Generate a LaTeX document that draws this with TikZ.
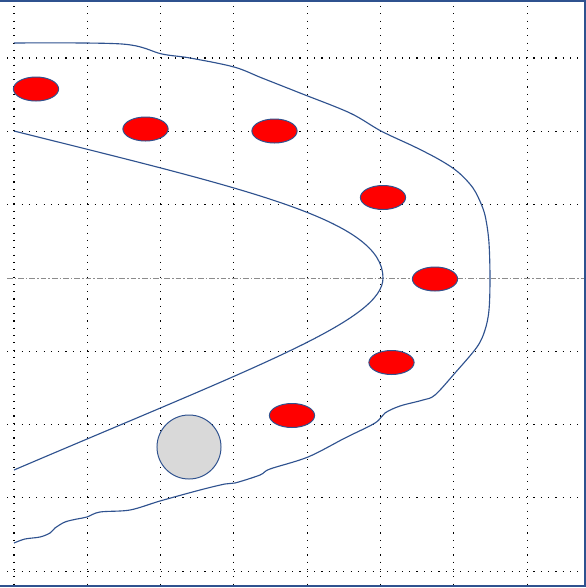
\documentclass[tikz,border=0pt]{standalone}
\usepackage{tikz}
\usetikzlibrary{shapes.geometric}
\definecolor{inkblue}{HTML}{2F528F}
\definecolor{spotred}{HTML}{FF0000}
\definecolor{discgrey}{HTML}{D9D9D9}
\definecolor{axisgrey}{HTML}{8C8C8C}

\begin{document}
\begin{tikzpicture}[x=0.025cm, y=-0.025cm,
  gridline/.style={black, line width=0.8pt, dash pattern=on 0.8pt off 4.4pt},
  axisline/.style={axisgrey, line width=0.7pt, dash pattern=on 4pt off 1.5pt on 1pt off 1.5pt},
  rimline/.style={inkblue, line width=0.8pt},
  spot/.style={ellipse, draw=inkblue, line width=0.7pt, fill=spotred,
               minimum width=1.13cm, minimum height=0.6cm, inner sep=0pt},
  disc/.style={circle, draw=inkblue, line width=0.7pt, fill=discgrey,
               minimum size=1.6cm, inner sep=0pt}]
  \useasboundingbox (0,0) rectangle (586,588);
  \fill[white] (0,0) rectangle (586,588);
  \foreach \i in {0,...,7}{%
    \draw[gridline] (14+73.3*\i,6) -- (14+73.3*\i,586);}
  \foreach \i in {0,1,2,4,5,6,7}{%
    \draw[gridline] (7,58+73.3*\i) -- (585,58+73.3*\i);}
  \draw[axisline] (7,278) -- (585,278);
  \draw[inkblue, line width=0.9pt] (0,1) -- (585,1) -- (585,586) -- (0,586);
  \draw[rimline] (14,131) .. controls (250,190) and (383,220) .. (383,278)
    .. controls (383,320) and (260,365) .. (14,470);
  \draw[rimline] plot[smooth, tension=0.55] coordinates {(14,43) (122,44)
    (162,54) (190,58) (234,67) (262,78) (300,93) (350,113) (381,131)
    (415,147) (440,160) (458,172) (473,188) (482,206) (486,220)
    (489,243) (490,278) (489,310) (485,330) (477,347) (455,373) (435,395)
    (423,400) (400,406) (385,413) (375,423) (345,438) (308,457) (270,469)
    (260,475) (235,483) (225,484) (200,490) (160,501) (130,510) (100,512)
    (87,517) (77,519) (65,522) (55,528) (50,533) (40,537) (25,539) (14,543)};
  \foreach \px/\py [count=\k] in {36/89, 145.5/129, 274.5/131, 383/197.5,
                                  435/279, 391.5/362.5, 292/415.5}{%
    \node[spot] (spot\k) at (\px,\py) {};}
  \node[disc] (disc) at (189,447) {};
\end{tikzpicture}
\end{document}
